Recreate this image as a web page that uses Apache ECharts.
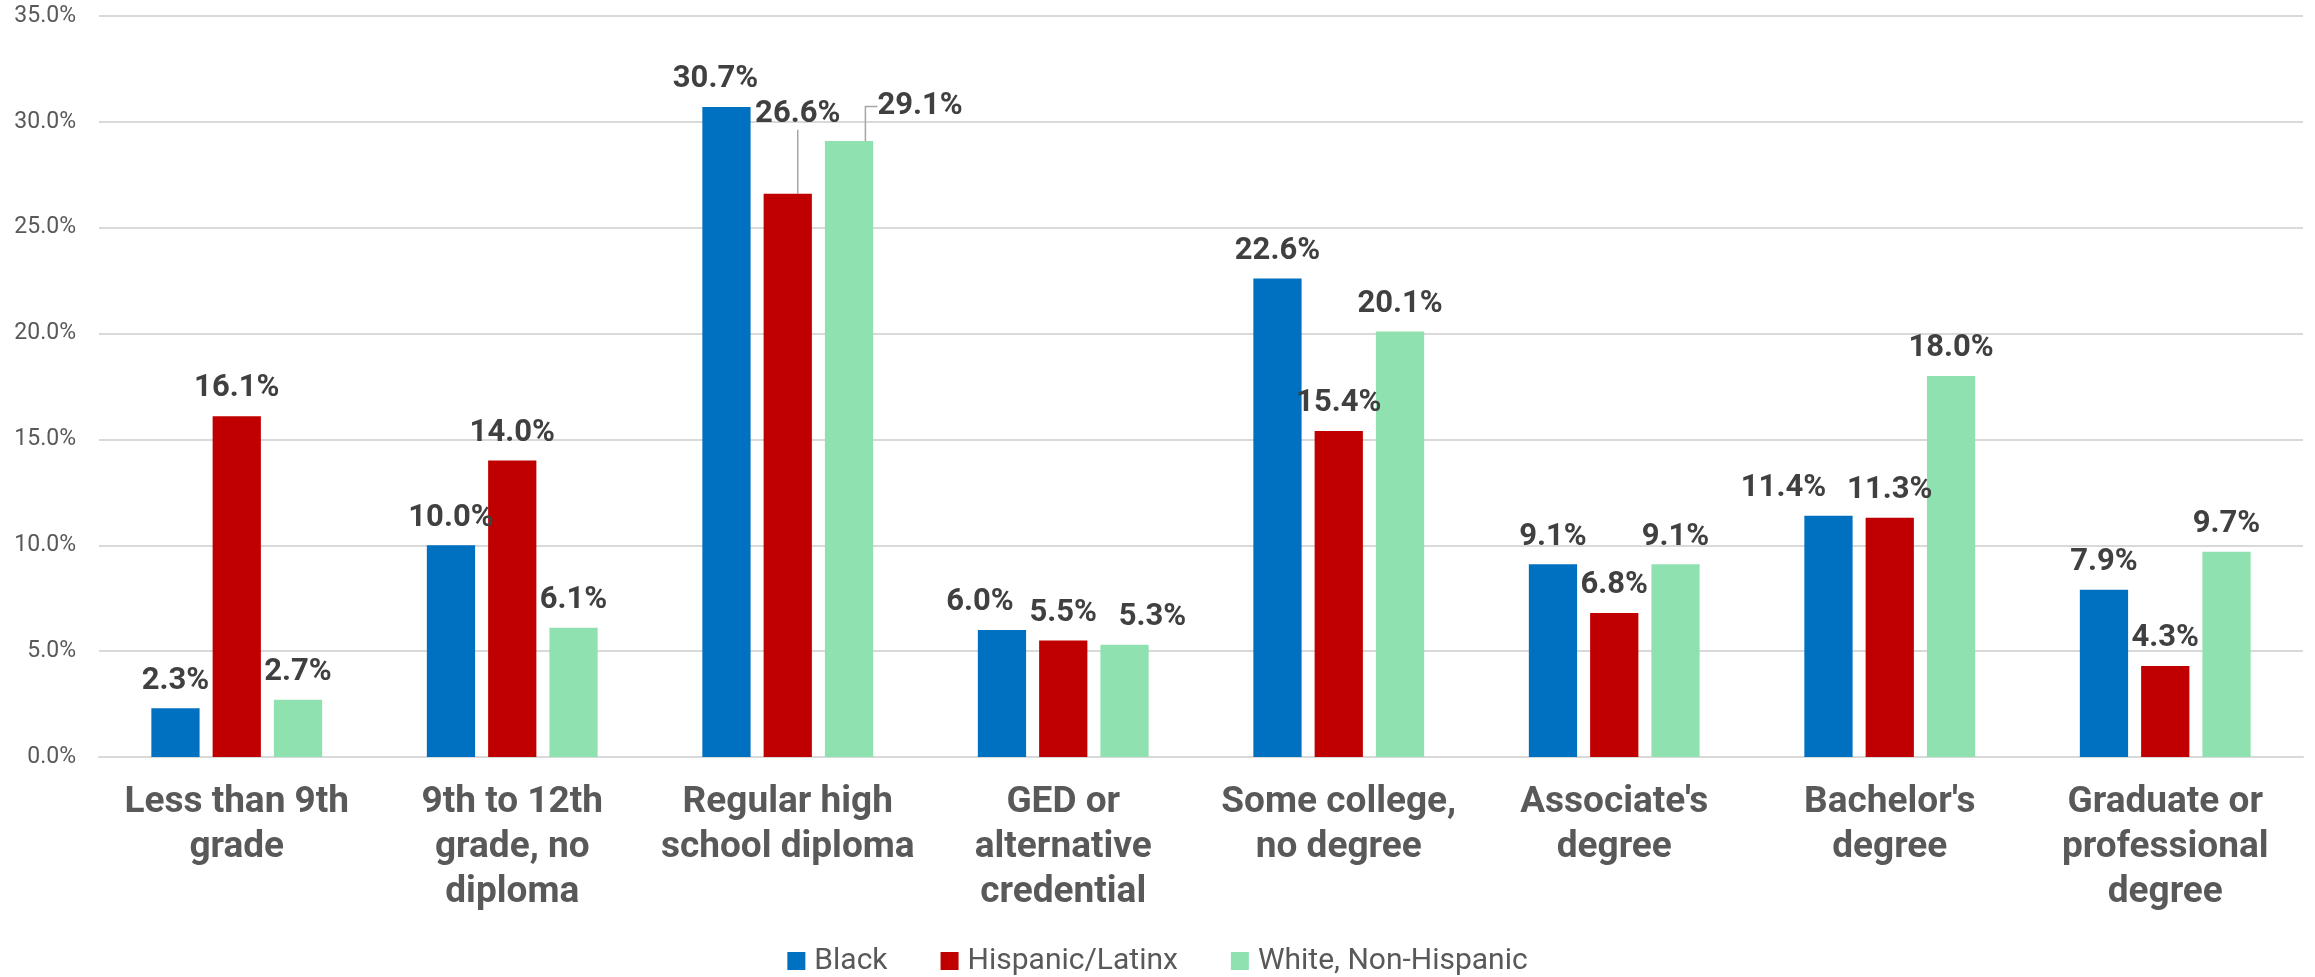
<!DOCTYPE html>
<html>
<head>
<meta charset="utf-8">
<script src="https://cdn.jsdelivr.net/npm/echarts@6/dist/echarts.min.js"></script>
<style>
  html, body { margin: 0; padding: 0; background: #fff; }
  #chart { width: 2315px; height: 977px; }
</style>
</head>
<body>
<div id="chart"></div>
<script>
// Educational attainment by race/ethnicity (percent of group)
const categories = [
  'Less than 9th\ngrade',
  '9th to 12th\ngrade, no\ndiploma',
  'Regular high\nschool diploma',
  'GED or\nalternative\ncredential',
  'Some college,\nno degree',
  "Associate's\ndegree",
  "Bachelor's\ndegree",
  'Graduate or\nprofessional\ndegree'
];
const seriesNames = ['Black', 'Hispanic/Latinx', 'White, Non-Hispanic'];
const black    = [2.3, 10.0, 30.7, 6.0, 22.6, 9.1, 11.4, 7.9];
const hispanic = [16.1, 14.0, 26.6, 5.5, 15.4, 6.8, 11.3, 4.3];
const white    = [2.7, 6.1, 29.1, 5.3, 20.1, 9.1, 18.0, 9.7];
const yTicks = { min: 0, max: 35, interval: 5 };

const colors = ['#0070C0', '#C00000', '#8FE1B0'];

// Labels nudged sideways so neighbours don't collide (series -> data index -> offset)
const labelShifts = {
  0: { 2: { dx: -11, dy: 0 }, 3: { dx: -22, dy: 0 }, 6: { dx: -45, dy: 0 } },
  1: { 2: { dx: 10, dy: -52 } },
  2: { 2: { dx: 71, dy: -7 }, 3: { dx: 28, dy: 0 } }
};
// Labels that keep a guide line back to their bar
const withGuide = { 1: [2], 2: [2] };

function buildData(values, sIdx) {
  return values.map((v, i) => {
    if (withGuide[sIdx] && withGuide[sIdx].includes(i)) {
      return { value: v, labelLine: { show: true } };
    }
    return v;
  });
}

const chart = echarts.init(document.getElementById('chart'), null, { renderer: 'canvas' });

const series = [black, hispanic, white].map((vals, s) => ({
  name: seriesNames[s],
  type: 'bar',
  data: buildData(vals, s),
  barGap: '27%',
  barCategoryGap: '38%',
  itemStyle: { color: colors[s] },
  label: {
    show: true,
    position: 'top',
    distance: 12,
    formatter: p => p.value.toFixed(1) + '%',
    fontFamily: 'Roboto',
    fontWeight: 'bold',
    fontSize: 31,
    color: '#404040'
  },
  labelLine: {
    show: false,
    length2: 12,
    lineStyle: { color: '#A6A6A6', width: 1.5 }
  },
  labelLayout: function (params) {
    const m = labelShifts[s] && labelShifts[s][params.dataIndex];
    return m ? { dx: m.dx, dy: m.dy } : {};
  }
}));

chart.setOption({
  animation: false,
  backgroundColor: '#ffffff',
  grid: { left: 99, right: 12, top: 16, bottom: 220, containLabel: false },
  legend: {
    data: seriesNames,
    left: 'center',
    top: 941,
    icon: 'rect',
    itemWidth: 18,
    itemHeight: 18,
    itemGap: 53,
    textStyle: {
      fontFamily: 'Roboto',
      fontSize: 30,
      color: '#595959',
      padding: [0, 0, 0, 4]
    }
  },
  xAxis: {
    type: 'category',
    data: categories,
    axisTick: { show: false },
    axisLine: { show: true, lineStyle: { color: '#D9D9D9', width: 2 } },
    axisLabel: {
      interval: 0,
      margin: 23,
      fontFamily: 'Roboto',
      fontWeight: 'bold',
      fontSize: 37,
      lineHeight: 45,
      color: '#595959',
      align: 'center'
    }
  },
  yAxis: {
    type: 'value',
    min: yTicks.min,
    max: yTicks.max,
    interval: yTicks.interval,
    axisLine: { show: false },
    axisTick: { show: false },
    splitLine: { lineStyle: { color: '#D9D9D9', width: 2 } },
    axisLabel: {
      margin: 23,
      fontFamily: 'Roboto',
      fontSize: 23,
      color: '#595959',
      formatter: v => v.toFixed(1) + '%'
    }
  },
  series: series
});
</script>
</body>
</html>
